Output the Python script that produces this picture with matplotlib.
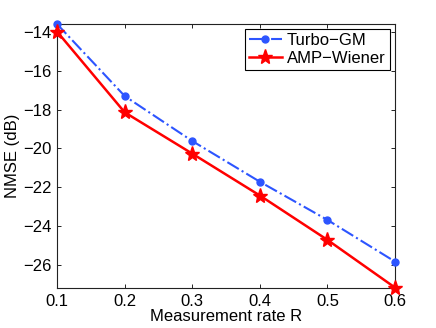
import matplotlib
matplotlib.use("Agg")
import matplotlib.pyplot as plt

rates = [0.1, 0.2, 0.3, 0.4, 0.5, 0.6]
turbo_gm = [-13.59, -17.30, -19.62, -21.72, -23.69, -25.84]
amp_wiener = [-13.98, -18.14, -20.27, -22.43, -24.72, -27.18]
yticks = [-14, -16, -18, -20, -22, -24, -26]

plt.rcParams['font.family'] = ['Liberation Sans', 'DejaVu Sans']
plt.rcParams['axes.unicode_minus'] = True

fig = plt.figure(figsize=(4.36, 3.28), dpi=100)
ax = fig.add_axes([0.131, 0.122, 0.775, 0.805])

ax.plot(rates, turbo_gm, color='#2d55ff', linestyle='-.', linewidth=1.5,
        marker='o', markersize=5, label='Turbo\u2212GM', clip_on=False, zorder=3)
ax.plot(rates, amp_wiener, color='#ff0000', linestyle='-', linewidth=1.8,
        marker='*', markersize=11, label='AMP\u2212Wiener', clip_on=False, zorder=4)

ax.set_xlim(0.1, 0.6)
ax.set_ylim(-27.2, -13.58)
ax.set_xticks(rates)
ax.set_xticklabels(['0.1', '0.2', '0.3', '0.4', '0.5', '0.6'])
ax.set_yticks(yticks)
ax.tick_params(direction='in', top=True, right=True, labelsize=12, length=3, width=0.6, pad=4)
for s in ax.spines.values():
    s.set_linewidth(0.8)
    s.set_color('#222222')

ax.set_xlabel('Measurement rate R', fontsize=12, labelpad=0)
ax.set_ylabel('NMSE (dB)', fontsize=12, labelpad=2)

leg = ax.legend(loc='upper right', fontsize=12, fancybox=False, framealpha=1,
                edgecolor='black', handlelength=2, borderaxespad=0.3,
                borderpad=0.25, labelspacing=0.15, handletextpad=0.3)
leg.get_frame().set_linewidth(0.8)

fig.savefig('out.png', dpi=100)
